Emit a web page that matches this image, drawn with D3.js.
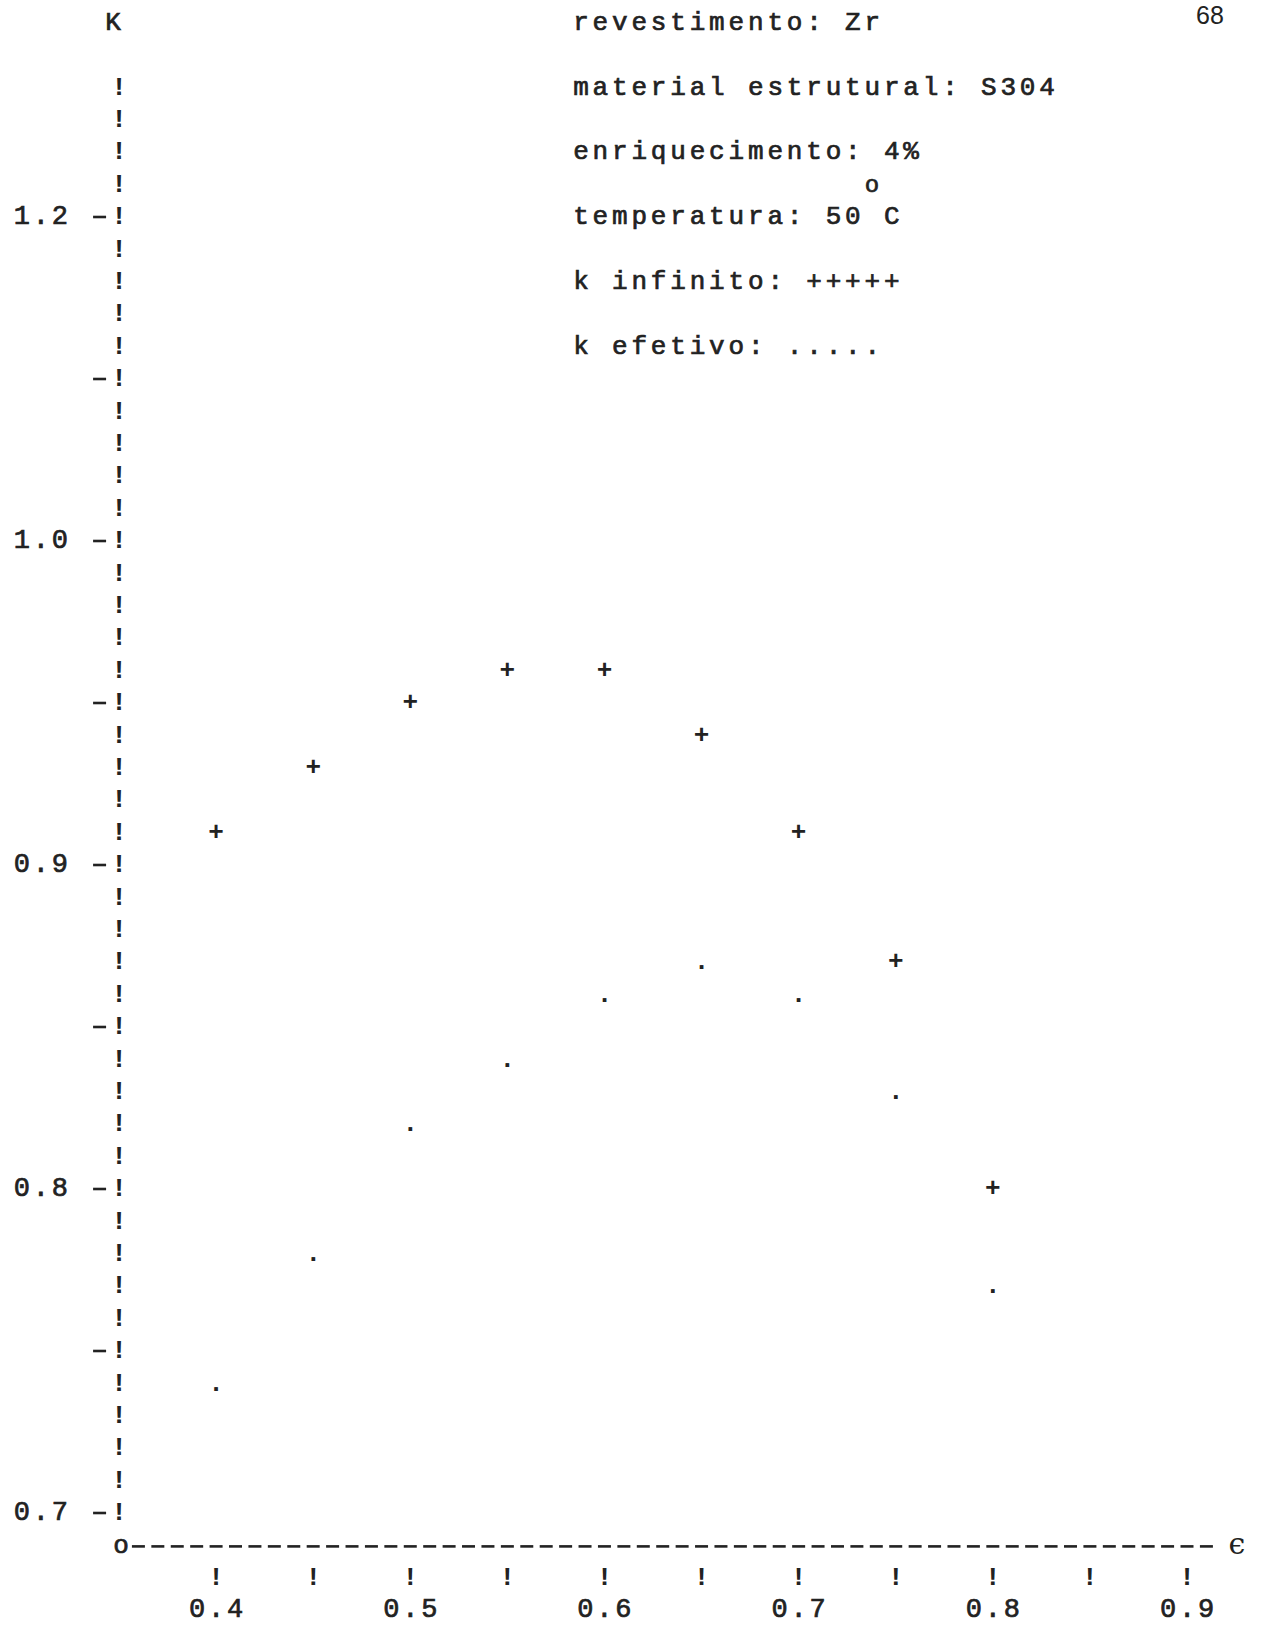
<!DOCTYPE html>
<html>
<head>
<meta charset="utf-8">
<script src="https://cdn.jsdelivr.net/npm/d3@7"></script>
<style>
  html, body { margin: 0; padding: 0; background: #fff; }
  svg text { font-family: "Courier New", "Liberation Mono", monospace; fill: #222; }
</style>
</head>
<body>
<div id="chart"></div>
<script>
// data
const epsilon = [0.40, 0.45, 0.50, 0.55, 0.60, 0.65, 0.70, 0.75, 0.80];
const kInfinito = [0.91, 0.93, 0.95, 0.96, 0.96, 0.94, 0.91, 0.87, 0.80];
const kEfetivo = [0.74, 0.78, 0.82, 0.84, 0.86, 0.87, 0.86, 0.83, 0.77];

const yTickValues = [0.7, 0.8, 0.9, 1.0, 1.1];
const yTickLabels = ["0.7", "0.8", "0.9", "1.0", "1.2"];   // as printed
const xTickValues = [0.4, 0.45, 0.5, 0.55, 0.6, 0.65, 0.7, 0.75, 0.8, 0.85, 0.9];
const xLabelValues = [0.4, 0.5, 0.6, 0.7, 0.8, 0.9];
const xLabels = ["0.4", "0.5", "0.6", "0.7", "0.8", "0.9"];

const headerLines = [
  "revestimento: Zr",
  "material estrutural: S304",
  "enriquecimento: 4%",
  "temperatura: 50 C",
  "k infinito: +++++",
  "k efetivo: ....."
];

const width = 1267, height = 1630;
const fs = 26;
const ink = '#222';

const svg = d3.select('#chart').append('svg')
  .attr('width', width)
  .attr('height', height);

const x = d3.scaleLinear().domain([0.35, 0.9]).range([119, 1187]);
const y = d3.scaleLinear().domain([0.7, 1.0]).range([1513, 541]);

const pitch = x(0.36) - x(0.35);   // one typewriter column
const base = fs * 0.28;            // baseline offset so glyph middle sits on the row

// put a string char by char on the grid, first char centred at cx
// weight 'bold' for the heavy marks, otherwise regular with a thin stroke (typewriter ink)
function typeText(str, cx, cy, step, size, weight) {
  const g = svg.append('g');
  const t = g.selectAll('text')
    .data(str.split(''))
    .enter()
    .append('text')
    .attr('x', (c, i) => cx + i * (step || pitch))
    .attr('y', cy + base)
    .attr('text-anchor', 'middle')
    .attr('font-size', size || fs)
    .attr('font-weight', weight === 'bold' ? 'bold' : 'normal')
    .text(c => c);
  if (weight !== 'bold') t.attr('stroke', ink).attr('stroke-width', 0.7);
  return g;
}

// typewriter hyphen, a bit wider than the font's own
function dash(cx, cy) {
  svg.append('line')
    .attr('x1', cx - 6.5).attr('x2', cx + 6.5)
    .attr('y1', cy).attr('y2', cy)
    .attr('stroke', ink)
    .attr('stroke-width', 2.6);
}

// vertical axis: a column of "!" with "-" at every 0.05
const rows = d3.range(0, 45).map(i => +(0.70 + i * 0.01).toFixed(2));
rows.forEach((v, i) => {
  typeText("!", x(0.35), y(v), pitch, fs, 'bold');
  if (i % 5 === 0) dash(x(0.35) - pitch, y(v));
});
yTickValues.forEach((v, i) => {
  typeText(yTickLabels[i], x(0.35) - 5 * pitch, y(v), 19, 27);
});

typeText("K", 113, y(1.16));

// horizontal axis
typeText("o", 121, y(0.69));
d3.range(1, 57).forEach(i => dash(x(0.35) + i * pitch, y(0.69) + 1));
svg.append('text')
  .attr('x', 1237).attr('y', y(0.69) + 9)
  .attr('text-anchor', 'middle')
  .attr('font-size', 30)
  .style('font-family', '"DejaVu Serif", serif')
  .text("\u03F5");

xTickValues.forEach(v => typeText("!", x(v), y(0.68), pitch, fs, 'bold'));
xLabelValues.forEach((v, i) => typeText(xLabels[i], x(v) - 19, y(0.67), 19, 27));

// header block
headerLines.forEach((s, i) => typeText(s, 581, y(1.16 - i * 0.02)));
typeText("o", 872, y(1.11), pitch, 24);

// page number
svg.append('text')
  .attr('x', 1210).attr('y', 24)
  .attr('text-anchor', 'middle')
  .attr('font-size', 25)
  .style('font-family', '"Liberation Sans", sans-serif')
  .text("68");

// k infinito as "+", k efetivo as "."
svg.append('g').selectAll('text')
  .data(epsilon.map((e, i) => [e, kInfinito[i]]))
  .enter()
  .append('text')
  .attr('x', d => x(d[0]))
  .attr('y', d => y(d[1]) + base)
  .attr('text-anchor', 'middle')
  .attr('font-size', fs)
  .attr('font-weight', 'bold')
  .text('+');

svg.append('g').selectAll('text')
  .data(epsilon.map((e, i) => [e, kEfetivo[i]]))
  .enter()
  .append('text')
  .attr('x', d => x(d[0]))
  .attr('y', d => y(d[1]) + base)
  .attr('text-anchor', 'middle')
  .attr('font-size', fs)
  .attr('font-weight', 'bold')
  .text('.');
</script>
</body>
</html>
